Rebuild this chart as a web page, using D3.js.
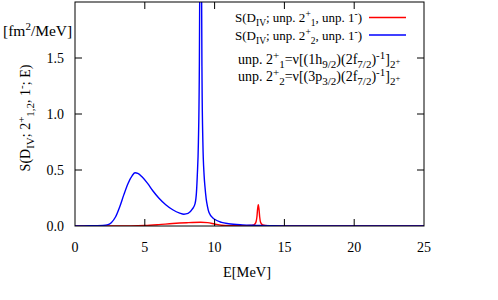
<!DOCTYPE html>
<html><head><meta charset="utf-8">
<script src="https://cdn.jsdelivr.net/npm/d3@7"></script>
<style>
html,body{margin:0;padding:0;background:#fff;}
</style></head>
<body><svg id="c" width="498" height="300"></svg>
<script>
// ---- data ----
const xTicks = [0, 5, 10, 15, 20, 25];
const yTicks = [0, 0.5, 1.0, 1.5];
const yTickLabels = ["0.0", "0.5", "1.0", "1.5"];

// S(D_IV; unp. 2+_2, unp. 1-)  (blue)
const blueE = [0, 1, 1.5, 2.0, 2.3, 2.6, 2.9, 3.2, 3.5, 3.8, 4.1, 4.3, 4.5, 4.8, 5.2, 5.6, 6.0, 6.5, 7.0, 7.5, 7.8, 8.1, 8.4, 8.6, 8.7, 8.76, 8.84, 8.9, 8.95, 9.0, 9.05, 9.1, 9.16, 9.25, 9.31, 9.4, 9.48, 9.6, 9.9, 10.0, 10.5, 11, 12, 13, 14, 15, 25];
const blueS = [0.001, 0.002, 0.003, 0.005, 0.01, 0.03, 0.08, 0.17, 0.28, 0.38, 0.45, 0.475, 0.47, 0.44, 0.38, 0.31, 0.25, 0.19, 0.145, 0.115, 0.105, 0.112, 0.15, 0.2, 0.3, 0.45, 0.75, 1.3, 2.5, 6.0, 2.6, 1.3, 0.75, 0.45, 0.35, 0.24, 0.18, 0.12, 0.07, 0.06, 0.032, 0.02, 0.01, 0.006, 0.003, 0.001, 0];

// S(D_IV; unp. 2+_1, unp. 1-)  (red)
const redE = [0, 4, 5, 6, 7, 8, 9, 9.5, 10, 10.5, 11, 12, 12.5, 12.8, 12.95, 13.03, 13.08, 13.13, 13.18, 13.23, 13.3, 13.45, 13.8, 14.5, 25];
const redS = [0, 0.001, 0.004, 0.012, 0.022, 0.029, 0.033, 0.03, 0.018, 0.007, 0.003, 0.002, 0.004, 0.01, 0.03, 0.08, 0.15, 0.19, 0.15, 0.08, 0.03, 0.01, 0.003, 0.001, 0];

// ---- layout ----
const FONT = "'Liberation Serif'";
const svg = d3.select("#c");
const L = 75, R = 424, T = 2, B = 226;
const x = d3.scaleLinear().domain([0, 25]).range([L, R]);
const y = d3.scaleLinear().domain([0, 2.0]).range([B, T]);

function txt(xp, yp, fs) {
  return svg.append("text").attr("x", xp).attr("y", yp)
    .style("font-family", FONT).style("font-size", (fs || 14) + "px").style("fill", "#000");
}

svg.append("defs").append("clipPath").attr("id", "clip")
  .append("rect").attr("x", L).attr("y", T).attr("width", R - L).attr("height", B - T);

// rich text helper: parts = [text, shift(px, negative = up), size]
function rich(sel, parts) {
  let prev = 0;
  parts.forEach(p => {
    const sh = p[1] || 0;
    const t = sel.append("tspan").text(p[0]).attr("dy", sh - prev);
    if (p[2]) t.style("font-size", p[2] + "px");
    prev = sh;
  });
  return sel;
}
const SUP = -5, SUB = 4;

// curves
const line = d3.line().x(d => x(d[0])).y(d => y(d[1])).curve(d3.curveMonotoneX);
const g = svg.append("g").attr("clip-path", "url(#clip)");
g.append("path").datum(redE.map((e, i) => [e, redS[i]]))
  .attr("d", line).attr("fill", "none").attr("stroke", "#ff0000").attr("stroke-width", 1.4);
g.append("path").datum(blueE.map((e, i) => [e, blueS[i]]))
  .attr("d", line).attr("fill", "none").attr("stroke", "#0000ff").attr("stroke-width", 1.4);

// frame
svg.append("rect").attr("x", L).attr("y", T).attr("width", R - L).attr("height", B - T)
  .attr("fill", "none").attr("stroke", "#000").attr("stroke-width", 1);

const tl = 7;
// x ticks
xTicks.forEach(v => {
  const px = x(v);
  if (v > 0 && v < 25) {
    svg.append("line").attr("x1", px).attr("x2", px).attr("y1", B).attr("y2", B - tl).attr("stroke", "#000");
    svg.append("line").attr("x1", px).attr("x2", px).attr("y1", T).attr("y2", T + tl).attr("stroke", "#000");
  }
  txt(px, 252).attr("text-anchor", "middle").text(String(v));
});
// y ticks
yTicks.forEach((v, i) => {
  const py = y(v);
  if (v > 0) {
    svg.append("line").attr("x1", L).attr("x2", L + tl).attr("y1", py).attr("y2", py).attr("stroke", "#000");
    svg.append("line").attr("x1", R).attr("x2", R - tl).attr("y1", py).attr("y2", py).attr("stroke", "#000");
  }
  txt(64, py + 5).attr("text-anchor", "end").text(yTickLabels[i]);
});

// axis labels
txt(247, 277, 14.4).attr("text-anchor", "middle").text("E[MeV]");
txt(3, 36, 15.5).attr("text-anchor", "start")
  .call(s => rich(s, [["[fm"], ["2", -6, 11], ["/MeV]", 0]]));
txt(0, 0).attr("transform", "translate(30,118) rotate(-90)")
  .attr("text-anchor", "middle")
  .call(s => rich(s, [["S(D"], ["IV", SUB, 11], ["; 2", 0], ["+", SUP, 11], ["1,2", SUB, 11], [", 1", 0], ["-", SUP, 11], ["; E)", 0]]));

// legend
const leg = [
  {c: "#ff0000", n: "1", yy: 17.5},
  {c: "#0000ff", n: "2", yy: 35}
];
leg.forEach(d => {
  txt(362, d.yy + 4.5, 13).attr("text-anchor", "end")
    .call(s => rich(s, [["S(D"], ["IV", SUB, 9.5], ["; unp. 2", 0], ["+", SUP, 9.5], [d.n, SUB, 9.5], [", unp. 1", 0], ["-", SUP, 9.5], [")", 0]]));
  svg.append("line").attr("x1", 369).attr("x2", 406).attr("y1", d.yy).attr("y2", d.yy)
    .attr("stroke", d.c).attr("stroke-width", 1.4);
});
txt(238, 64)
  .call(s => rich(s, [["unp. 2"], ["+", SUP, 11], ["1", SUB, 11], ["=ν[(1h", 0], ["9/2", SUB, 11], [")(2f", 0], ["7/2", SUB, 11], [")", 0], ["-1", SUP, 11], ["]", 0], ["2", SUB, 11], ["+", 0, 8.5]]));
txt(238, 81)
  .call(s => rich(s, [["unp. 2"], ["+", SUP, 11], ["2", SUB, 11], ["=ν[(3p", 0], ["3/2", SUB, 11], [")(2f", 0], ["7/2", SUB, 11], [")", 0], ["-1", SUP, 11], ["]", 0], ["2", SUB, 11], ["+", 0, 8.5]]));
</script></body></html>
